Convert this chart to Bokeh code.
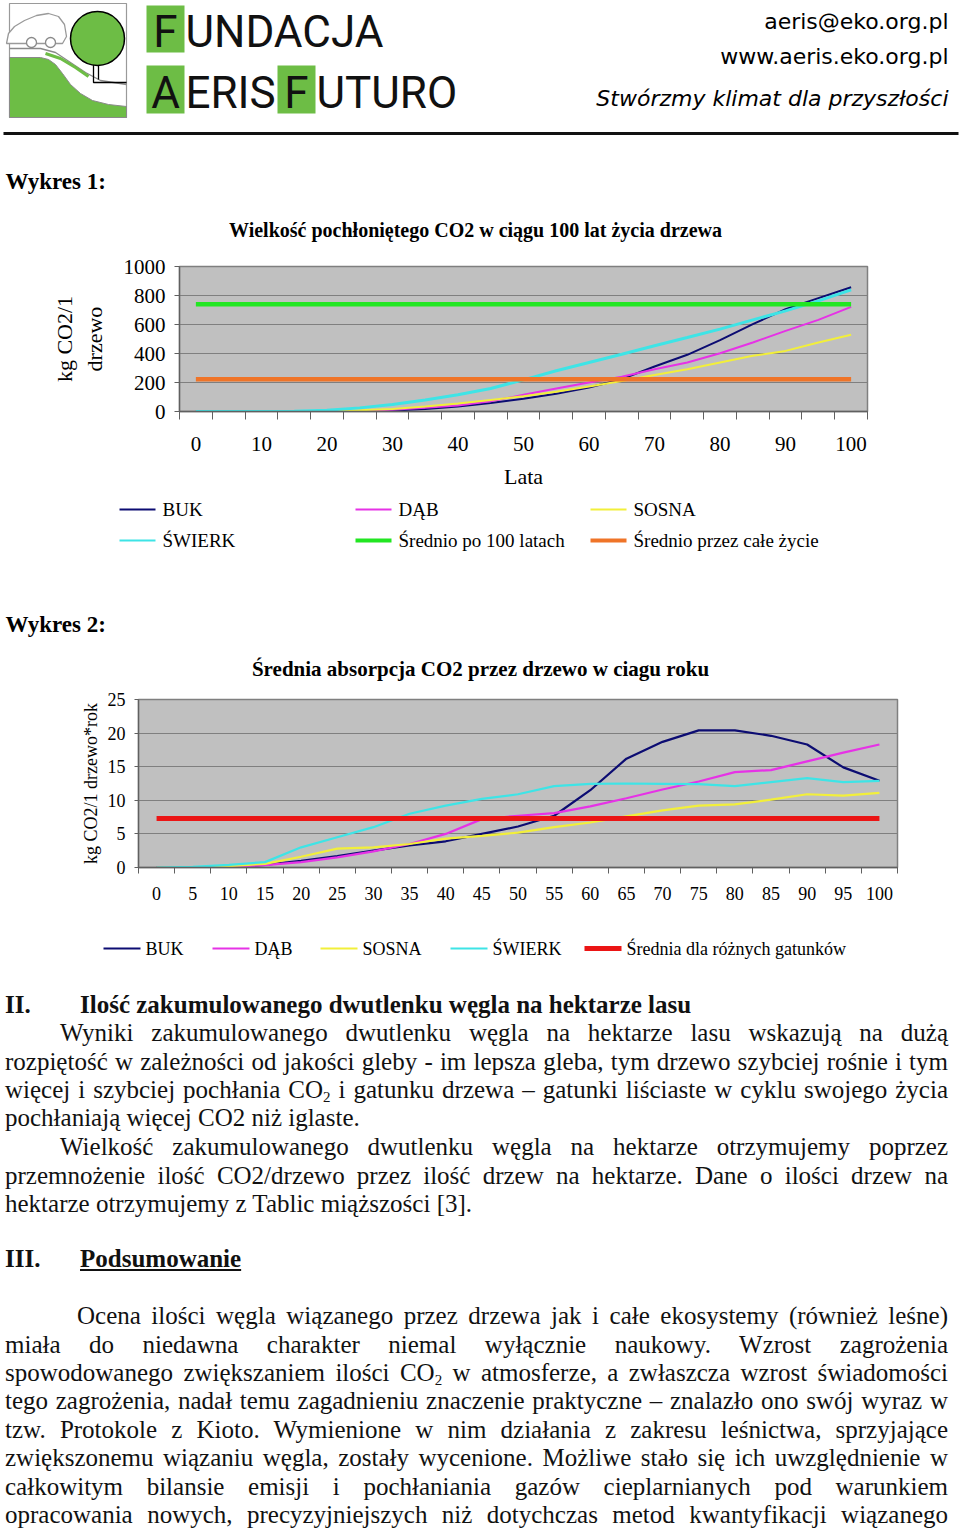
from bokeh.plotting import figure
from bokeh.models import Range1d, FixedTicker, Div
from bokeh.layouts import column
from bokeh.embed import file_html
from bokeh.resources import INLINE
from bokeh.core.properties import value

# ---------------- data ----------------
years = [0, 5, 10, 15, 20, 25, 30, 35, 40, 45, 50, 55, 60, 65, 70, 75, 80, 85, 90, 95, 100]
chart1_labels = [0, 10, 20, 30, 40, 50, 60, 70, 80, 90, 100]
chart1_yticks = [0, 200, 400, 600, 800, 1000]
chart2_yticks = [0, 5, 10, 15, 20, 25]

series_names = ["BUK", "DĄB", "SOSNA", "ŚWIERK"]
chart1_buk = [0, 0, 0, 0, 0, 2, 7, 18, 35, 58, 88, 122, 165, 223, 310, 391, 492, 602, 706, 782, 857]
chart1_dab = [0, 0, 0, 0, 1, 5, 12, 25, 42, 70, 115, 159, 200, 239, 292, 338, 402, 476, 556, 632, 722]
chart1_sosna = [0, 0, 0, 0, 2, 8, 18, 35, 55, 80, 105, 136, 172, 211, 251, 292, 338, 384, 418, 476, 529]
chart1_swierk = [0, 0, 0, 1, 9, 25, 48, 80, 115, 159, 218, 281, 338, 395, 453, 510, 568, 632, 694, 763, 839]
avg_names_1 = ["Średnio po 100 latach", "Średnio przez całe życie"]
avg_values_1 = [740, 223]

chart2_buk = [0, 0, 0, 0.4, 1.0, 1.7, 2.5, 3.3, 3.9, 5.0, 6.1, 7.7, 11.5, 16.2, 18.7, 20.4, 20.4, 19.6, 18.3, 14.9, 12.9]
chart2_dab = [0, 0, 0.1, 0.35, 0.8, 1.5, 2.4, 3.5, 5.0, 7.2, 7.7, 8.1, 9.1, 10.3, 11.6, 12.8, 14.2, 14.5, 15.8, 17.1, 18.3]
chart2_sosna = [0, 0, 0.2, 0.55, 1.6, 2.8, 3.0, 3.5, 4.3, 4.7, 5.2, 6.0, 6.7, 7.6, 8.5, 9.2, 9.4, 10.1, 10.9, 10.7, 11.1]
chart2_swierk = [0, 0.1, 0.4, 0.8, 3.0, 4.5, 6.0, 8.0, 9.2, 10.2, 10.9, 12.1, 12.45, 12.5, 12.45, 12.4, 12.1, 12.7, 13.3, 12.7, 12.9]
avg_name_2 = "Średnia dla różnych gatunków"
avg_value_2 = 7.3

# ---------------- styles ----------------
SERIF = "Liberation Serif"
SANS = "DejaVu Sans"
W = 960
series_colors = ["#0c0c72", "#e632e6", "#f2ef3a", "#3ee4e6"]
avg_colors_1 = ["#22e622", "#ef7428"]
avg_color_2 = "#eb1515"
plot_bg = "#c0c0c0"
grid_col = "#7f7f7f"
logo_green = "#6dbd45"

chart1_series = [chart1_buk, chart1_dab, chart1_sosna, chart1_swierk]
chart2_series = [chart2_buk, chart2_dab, chart2_sosna, chart2_swierk]
half = 2.5
boundaries = [y - half for y in years] + [years[-1] + half]


def no_align(p):
    try:
        p.frame_align = False
    except Exception:
        pass


def text_fig(y_top, y_bot):
    p = figure(width=W, height=y_bot - y_top, x_range=Range1d(0, W),
               y_range=Range1d(y_bot, y_top), output_backend="svg",
               toolbar_location=None, x_axis_location=None, y_axis_location=None,
               min_border_left=0, min_border_right=0, min_border_top=0, min_border_bottom=0)
    p.grid.visible = False
    p.outline_line_color = None
    p.background_fill_color = "white"
    p.border_fill_color = "white"
    no_align(p)
    return p


def txt(p, x, y, s, size, font=SERIF, style="normal", align="left", color="black"):
    p.text(x=[x], y=[y], text=[s], text_font=value(font), text_font_size=f"{size}px",
           text_font_style=style, text_align=align, text_baseline="middle", text_color=color)


# ---------------- header + "Wykres 1" ----------------
pa = text_fig(0, 250)
# logo
pa.quad(left=[9], right=[126], top=[3], bottom=[117], fill_color=None, line_color="#9a9a9a", line_width=1.2)
pa.patch([9, 40, 48, 55, 62, 70, 80, 92, 108, 126, 126, 9],
         [57, 57, 59, 64, 73, 84, 93, 100, 104, 106, 117, 117], fill_color=logo_green, line_color="#8a8a8a", line_width=1)
pa.line([9, 40, 55, 70, 85, 100, 126], [48, 48, 52, 62, 72, 80, 84], line_color="#8a8a8a", line_width=1.3)
pa.line([45, 60, 75, 88], [53, 58, 67, 76], line_color=logo_green, line_width=3)
pa.patch([6, 8, 14, 24, 36, 48, 58, 64, 66, 62, 6], [43, 33, 26, 20, 15, 13, 16, 24, 36, 43, 43],
         fill_color="white", line_color="#9a9a9a", line_width=1.3)
pa.circle(x=[31, 50], y=[42, 42], radius=5, fill_color="white", line_color="#8a8a8a", line_width=1.3)
pa.line([93, 93, 126], [60, 82, 82], line_color="black", line_width=1.3)
pa.line([98, 98], [60, 79], line_color="black", line_width=1.3)
pa.ellipse(x=[97], y=[38], width=54, height=54, fill_color=logo_green, line_color="black", line_width=1.5)
# name
pa.quad(left=[146, 146, 277], right=[184, 184, 315], top=[5, 65, 65], bottom=[52, 113, 113],
        fill_color=logo_green, line_color=None)
BIG = 44
for x, ch, yc in [(165, "F", 31), (165, "A", 92), (296, "F", 92)]:
    txt(pa, x, yc, ch, BIG, font="Roboto", align="center", color="#111111")
txt(pa, 185, 31, "UNDACJA", BIG, font="Roboto", color="#111111")
txt(pa, 185, 92, "ERIS", BIG, font="Roboto", color="#111111")
txt(pa, 316, 92, "UTURO", BIG, font="Roboto", color="#111111")
txt(pa, 948, 21, "aeris@eko.org.pl", 22, font=SANS, align="right")
txt(pa, 948, 56, "www.aeris.eko.org.pl", 22, font=SANS, align="right")
txt(pa, 948, 98, "Stwórzmy klimat dla przyszłości", 22, font=SANS, style="italic", align="right")
pa.line([3, 958], [133, 133], line_color="#111111", line_width=3)
txt(pa, 5, 181, "Wykres 1:", 23, style="bold")
txt(pa, 475, 229, "Wielkość pochłoniętego CO2 w ciągu 100 lat życia drzewa", 20, style="bold", align="center")

# ---------------- chart 1 ----------------
p1 = figure(width=W, height=245, x_range=Range1d(years[0] - half, years[-1] + half),
            y_range=Range1d(chart1_yticks[0], chart1_yticks[-1]), output_backend="svg", toolbar_location=None,
            min_border_left=179, min_border_right=93, min_border_top=16, min_border_bottom=84)
no_align(p1)
p1.background_fill_color = plot_bg
p1.border_fill_color = "white"
p1.outline_line_color = grid_col
p1.outline_line_width = 1.5
p1.xgrid.visible = False
p1.ygrid.ticker = FixedTicker(ticks=chart1_yticks)
p1.ygrid.grid_line_color = grid_col
p1.ygrid.grid_line_width = 1.2
for vals, col, w in zip(chart1_series, series_colors, [2, 2, 2, 3]):
    p1.line(years, vals, line_color=col, line_width=w)
for v, col in zip(avg_values_1, avg_colors_1):
    p1.line([years[0], years[-1]], [v, v], line_color=col, line_width=4.5)

p1.yaxis.ticker = FixedTicker(ticks=chart1_yticks)
p1.yaxis.axis_label = "kg CO2/1\ndrzewo"
p1.xaxis.ticker = FixedTicker(ticks=chart1_labels, minor_ticks=boundaries)
p1.xaxis.axis_label = "Lata"
for ax in (p1.xaxis[0], p1.yaxis[0]):
    ax.axis_line_color = "#606060"
    ax.axis_line_width = 1.3
    ax.major_label_text_font = SERIF
    ax.major_label_text_font_size = "21px"
    ax.major_label_text_color = "black"
    ax.axis_label_text_font = SERIF
    ax.axis_label_text_font_size = "22px"
    ax.axis_label_text_font_style = "normal"
    ax.axis_label_text_color = "black"
p1.yaxis.major_tick_out = 5
p1.yaxis.major_tick_in = 0
p1.yaxis.major_tick_line_color = "#606060"
p1.yaxis.minor_tick_line_color = None
p1.yaxis.major_label_standoff = 9
p1.yaxis.axis_label_standoff = 14
p1.xaxis.major_tick_line_color = None
p1.xaxis.major_tick_out = 0
p1.xaxis.major_tick_in = 0
p1.xaxis.minor_tick_out = 8
p1.xaxis.minor_tick_in = 0
p1.xaxis.minor_tick_line_color = "#606060"
p1.xaxis.major_label_standoff = 17
p1.xaxis.axis_label_standoff = 10

# ---------------- legend 1 + "Wykres 2" ----------------
pb = text_fig(495, 685)
leg1 = [(series_names[0], series_colors[0], 2, 119, 509), (series_names[1], series_colors[1], 2, 355, 509),
        (series_names[2], series_colors[2], 2, 590, 509), (series_names[3], series_colors[3], 2, 119, 540),
        (avg_names_1[0], avg_colors_1[0], 4, 355, 540), (avg_names_1[1], avg_colors_1[1], 4, 590, 540)]
for name, col, w, x0, y0 in leg1:
    pb.line([x0, x0 + 36], [y0, y0], line_color=col, line_width=w)
    txt(pb, x0 + 43, y0, name, 19)
txt(pb, 5, 624, "Wykres 2:", 23, style="bold")
txt(pb, 480, 668, "Średnia absorpcja CO2 przez drzewo w ciagu roku", 21, style="bold", align="center")

# ---------------- chart 2 ----------------
p2 = figure(width=W, height=230, x_range=Range1d(years[0] - half, years[-1] + half),
            y_range=Range1d(chart2_yticks[0], chart2_yticks[-1]), output_backend="svg", toolbar_location=None,
            min_border_left=138, min_border_right=63, min_border_top=14, min_border_bottom=48)
no_align(p2)
p2.background_fill_color = plot_bg
p2.border_fill_color = "white"
p2.outline_line_color = grid_col
p2.outline_line_width = 1.5
p2.xgrid.visible = False
p2.ygrid.ticker = FixedTicker(ticks=chart2_yticks)
p2.ygrid.grid_line_color = grid_col
p2.ygrid.grid_line_width = 1.2
for vals, col in zip(chart2_series, series_colors):
    p2.line(years, vals, line_color=col, line_width=2.2)
p2.line([years[0], years[-1]], [avg_value_2, avg_value_2], line_color=avg_color_2, line_width=5)

p2.yaxis.ticker = FixedTicker(ticks=chart2_yticks)
p2.yaxis.axis_label = "kg CO2/1 drzewo*rok"
p2.xaxis.ticker = FixedTicker(ticks=years, minor_ticks=boundaries)
for ax in (p2.xaxis[0], p2.yaxis[0]):
    ax.axis_line_color = "#606060"
    ax.axis_line_width = 1.3
    ax.major_label_text_font = SERIF
    ax.major_label_text_font_size = "18px"
    ax.major_label_text_color = "black"
    ax.axis_label_text_font = SERIF
    ax.axis_label_text_font_size = "18px"
    ax.axis_label_text_font_style = "normal"
    ax.axis_label_text_color = "black"
p2.yaxis.major_tick_out = 4
p2.yaxis.major_tick_in = 0
p2.yaxis.major_tick_line_color = "#606060"
p2.yaxis.minor_tick_line_color = None
p2.yaxis.major_label_standoff = 9
p2.yaxis.axis_label_standoff = 4
p2.xaxis.major_tick_line_color = None
p2.xaxis.major_tick_out = 0
p2.xaxis.major_tick_in = 0
p2.xaxis.minor_tick_out = 6
p2.xaxis.minor_tick_in = 0
p2.xaxis.minor_tick_line_color = "#606060"
p2.xaxis.major_label_standoff = 13

# ---------------- legend 2 ----------------
pc = text_fig(915, 985)
leg2 = [(series_names[0], series_colors[0], 2, 103), (series_names[1], series_colors[1], 2, 212),
        (series_names[2], series_colors[2], 2, 320), (series_names[3], series_colors[3], 2, 450),
        (avg_name_2, avg_color_2, 5, 584)]
for name, col, w, x0 in leg2:
    pc.line([x0, x0 + 37], [948, 948], line_color=col, line_width=w)
    txt(pc, x0 + 42, 948, name, 18)

# ---------------- body text ----------------
TOP = 985
LH = 28
RIGHT = 948


def line_html(yc, left, html, justify=True, bold=False, underline=False, size=25):
    st = (f"position:absolute;top:{yc - TOP - LH // 2}px;left:{left}px;width:{RIGHT - left}px;"
          f"height:{LH}px;line-height:{LH}px;white-space:nowrap;font-size:{size}px;")
    if justify:
        st += "text-align:justify;text-align-last:justify;"
    if bold:
        st += "font-weight:bold;"
    if underline:
        st += "text-decoration:underline;"
    return f'<div style="{st}">{html}</div>'


SUB = '<span style="font-size:15px;vertical-align:-4px;line-height:0">2</span>'
body = [
    line_html(1005, 5, "II.", False, True, size=25),
    line_html(1005, 80, "Ilość zakumulowanego dwutlenku węgla na hektarze lasu", False, True, size=25),
    line_html(1033, 60, "Wyniki zakumulowanego dwutlenku węgla na hektarze lasu wskazują na dużą"),
    line_html(1062, 5, "rozpiętość w zależności od jakości gleby - im lepsza gleba, tym drzewo szybciej rośnie i tym"),
    line_html(1090, 5, f"więcej i szybciej pochłania CO{SUB} i gatunku drzewa – gatunki liściaste w cyklu swojego życia"),
    line_html(1118, 5, "pochłaniają więcej CO2 niż iglaste.", False),
    line_html(1147, 60, "Wielkość zakumulowanego dwutlenku węgla na hektarze otrzymujemy poprzez"),
    line_html(1176, 5, "przemnożenie ilość CO2/drzewo przez ilość drzew na hektarze. Dane o ilości drzew na"),
    line_html(1204, 5, "hektarze otrzymujemy z Tablic miąższości [3].", False),
    line_html(1259, 5, "III.", False, True, size=25),
    line_html(1259, 80, "Podsumowanie", False, True, True, size=25),
    line_html(1316, 77, "Ocena ilości węgla wiązanego przez drzewa jak i całe ekosystemy (również leśne)"),
    line_html(1345, 5, "miała do niedawna charakter niemal wyłącznie naukowy. Wzrost zagrożenia"),
    line_html(1373, 5, f"spowodowanego zwiększaniem ilości CO{SUB} w atmosferze, a zwłaszcza wzrost świadomości"),
    line_html(1401, 5, "tego zagrożenia, nadał temu zagadnieniu znaczenie praktyczne – znalazło ono swój wyraz w"),
    line_html(1430, 5, "tzw. Protokole z Kioto. Wymienione w nim działania z zakresu leśnictwa, sprzyjające"),
    line_html(1458, 5, "zwiększonemu wiązaniu węgla, zostały wycenione. Możliwe stało się ich uwzględnienie w"),
    line_html(1487, 5, "całkowitym bilansie emisji i pochłaniania gazów cieplarnianych pod warunkiem"),
    line_html(1515, 5, "opracowania nowych, precyzyjniejszych niż dotychczas metod kwantyfikacji wiązanego"),
]
DIV_H = 1532 - TOP
html = (f'<div style="position:relative;width:{W}px;height:{DIV_H}px;overflow:hidden;'
        "font-family:'Liberation Serif',serif;color:#111;\">" + "".join(body) + "</div>")
div = Div(text=html, width=W, height=DIV_H, styles={"overflow": "hidden", "margin": "0", "padding": "0"})

layout = column(column(pa), column(p1), column(pb), column(p2), column(pc), div, spacing=0)
open("out.html", "w").write(file_html(layout, INLINE))
